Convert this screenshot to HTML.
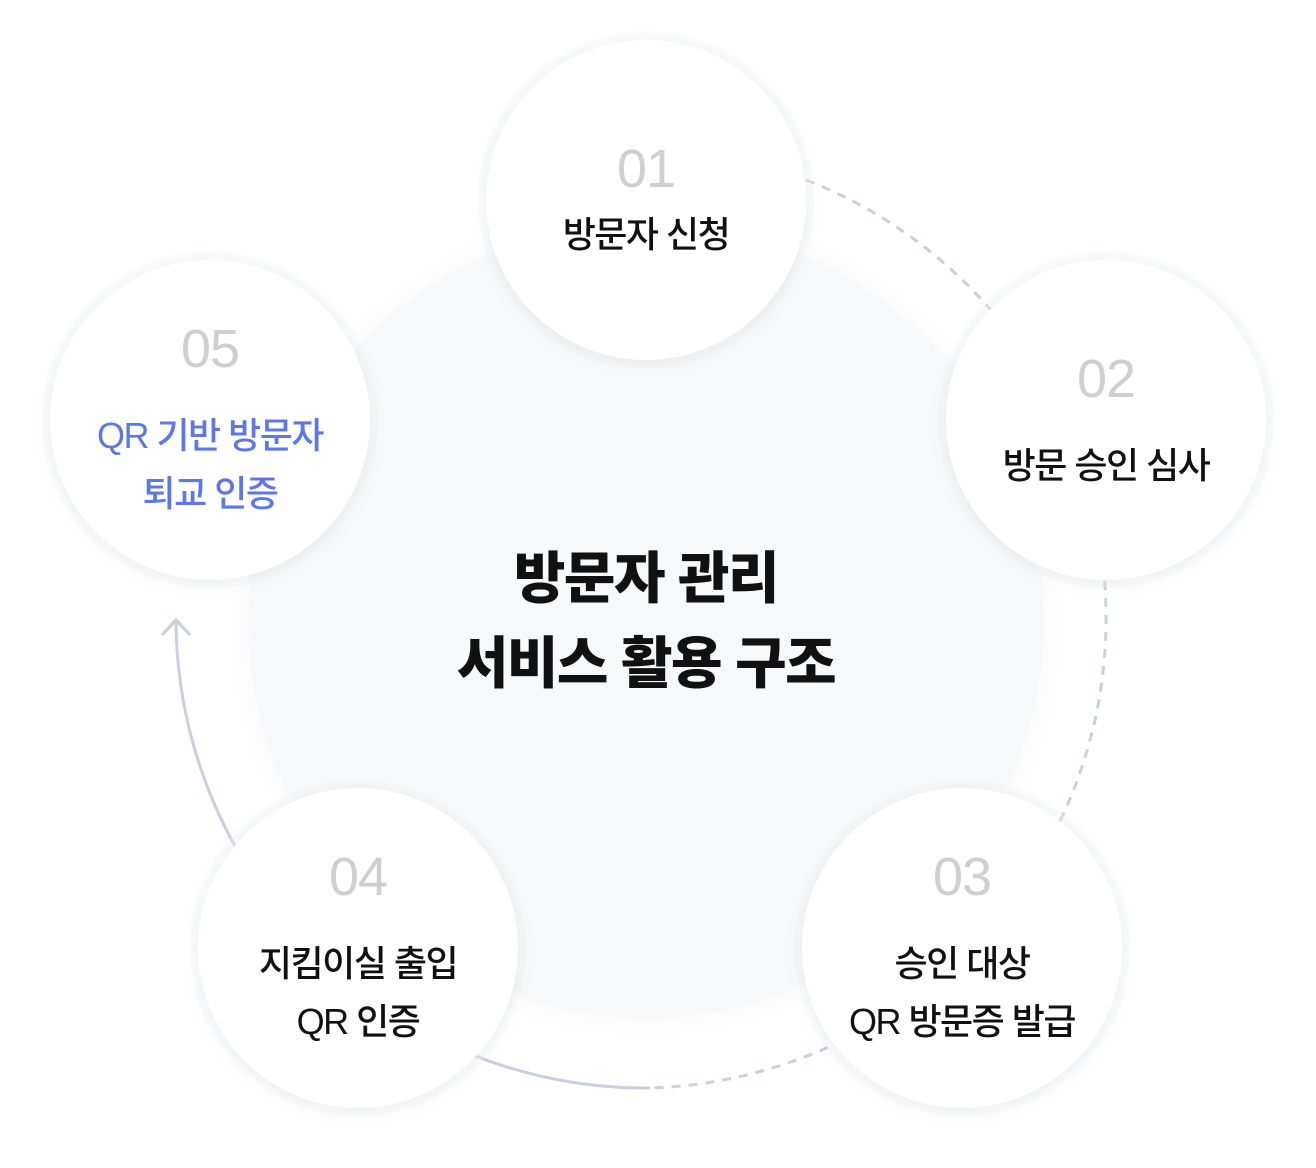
<!DOCTYPE html>
<html><head><meta charset="utf-8"><style>
html,body{margin:0;padding:0;background:#fff;}
body{width:1316px;height:1168px;position:relative;overflow:hidden;font-family:"Liberation Sans","Noto Sans CJK KR",sans-serif;}
.c{position:absolute;width:320px;height:320px;border-radius:50%;background:#fff;box-shadow:0 4px 20px rgba(0,0,0,0.05),0 0 0 8px rgba(242,243,245,0.35);}
.t{position:absolute;left:0;width:100%;text-align:center;}
.n{font-size:54px;color:#cfcfcf;font-weight:300;letter-spacing:-1px;}
.l{font-size:36px;color:#111;font-weight:500;line-height:58px;letter-spacing:-1.5px;}
</style></head><body>
<div style="position:absolute;left:248px;top:222px;width:796px;height:796px;border-radius:50%;background:#f7f8f9;box-shadow:0 0 30px rgba(0,0,0,0.03);"></div>
<svg width="1316" height="1168" style="position:absolute;left:0;top:0">
<path d="M 806 180 A 470 470 0 0 1 650 1088" fill="none" stroke="#c9d0e0" stroke-width="3" stroke-dasharray="9 8"/>
<path d="M 650 1088 A 470 470 0 0 1 176 620" fill="none" stroke="#c7cfe1" stroke-width="3"/>
<path d="M 162 635 L 176 620 L 190 635" fill="none" stroke="#c7cfe1" stroke-width="3"/>
</svg>
<div class="t" style="top:536px;width:1292px;font-size:56px;font-weight:800;line-height:85px;color:#111;letter-spacing:-1.5px;">방문자 관리<br>서비스 활용 구조</div>

<div class="c" style="left:486px;top:40px"><div class="t n" style="top:98px">01</div><div class="t l" style="top:166px">방문자 신청</div></div>
<div class="c" style="left:946px;top:260px"><div class="t n" style="top:88px">02</div><div class="t l" style="top:177px">방문 승인 심사</div></div>
<div class="c" style="left:802px;top:788px"><div class="t n" style="top:58px">03</div><div class="t l" style="top:147px">승인 대상<br>QR 방문증 발급</div></div>
<div class="c" style="left:198px;top:788px"><div class="t n" style="top:58px">04</div><div class="t l" style="top:147px">지킴이실 출입<br>QR 인증</div></div>
<div class="c" style="left:50px;top:260px"><div class="t n" style="top:58px">05</div><div class="t l" style="top:147px;color:#5d78e6">QR 기반 방문자<br>퇴교 인증</div></div>
</body></html>
